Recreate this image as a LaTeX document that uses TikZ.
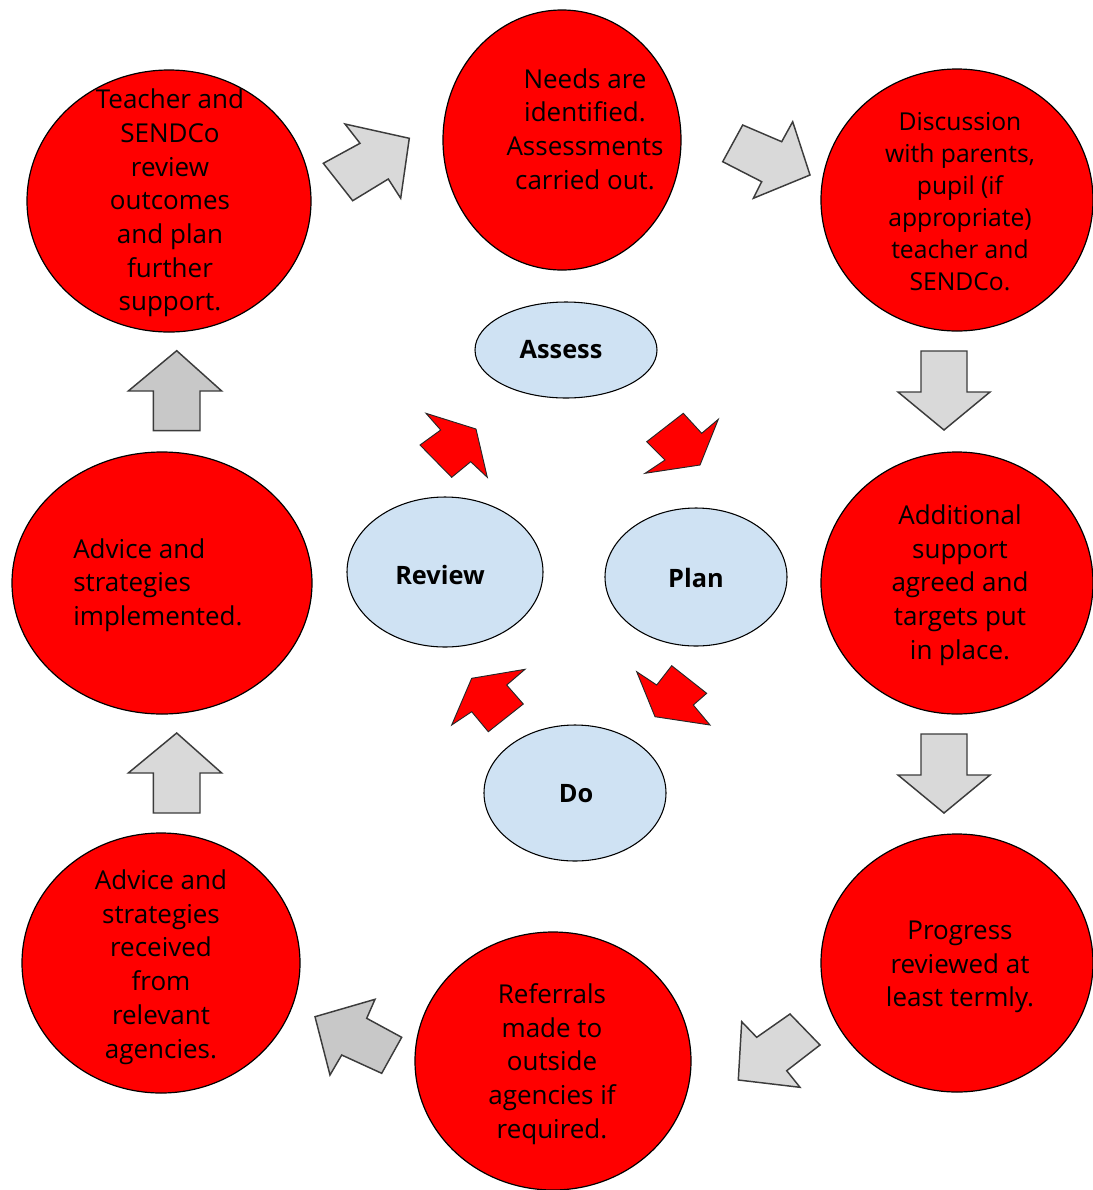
\documentclass[tikz,border=0pt]{standalone}
\usepackage{fontspec}
\setmainfont{Open Sans}
\usetikzlibrary{shapes.geometric}
\definecolor{redf}{HTML}{FF0000}
\definecolor{bluef}{HTML}{CFE2F3}
\definecolor{grayf}{HTML}{D9D9D9}
\definecolor{grayg}{HTML}{C8C8C8}
\definecolor{edgec}{HTML}{262626}
\tikzset{
  redc/.style={ellipse, draw=black, line width=0.9pt, fill=redf, inner sep=0pt},
  bluec/.style={ellipse, draw=black, line width=0.8pt, fill=bluef, inner sep=0pt},
  txt/.style={align=center, inner sep=0pt, text=black, font=\fontsize{19.5}{25.3}\selectfont},
  txts/.style={align=center, inner sep=0pt, text=black, font=\fontsize{18.5}{24}\selectfont},
  lbl/.style={inner sep=0pt, text=black, font=\bfseries\fontsize{19}{22}\selectfont},
  redarrow/.style={draw=edgec, line width=0.7pt, fill=redf, line join=miter},
  grayarrow/.style={draw=edgec!90, line width=1.1pt, fill=grayf, line join=miter},
  grayarrowd/.style={draw=edgec!90, line width=1.1pt, fill=grayg, line join=miter},
}
\begin{document}
\begin{tikzpicture}[x=0.75pt, y=-0.75pt]
\useasboundingbox (0,0) rectangle (1093,1190);
% red circles
\node[redc, minimum width=213pt, minimum height=196.5pt] (c1) at (169,201) {};
\node[redc, minimum width=178.5pt, minimum height=195pt] (c2) at (562,140) {};
\node[redc, minimum width=204pt, minimum height=196.5pt] (c3) at (957,200) {};
\node[redc, minimum width=204pt, minimum height=196.5pt] (c4) at (957,583) {};
\node[redc, minimum width=204pt, minimum height=193.5pt] (c5) at (957,963) {};
\node[redc, minimum width=207pt, minimum height=193.5pt] (c6) at (553,1061) {};
\node[redc, minimum width=208.5pt, minimum height=195pt] (c7) at (161,963) {};
\node[redc, minimum width=225pt, minimum height=196.5pt] (c8) at (162,583) {};
% texts
\node[txt] (t1) at (170,203) {Teacher and\\SENDCo\\review\\outcomes\\and plan\\further\\support.};
\node[txt] (t2) at (585,129) {Needs are\\identified.\\Assessments\\carried out.};
\node[txts] (t3) at (960,202) {Discussion\\with parents,\\pupil (if\\appropriate)\\teacher and\\SENDCo.};
\node[txt] (t4) at (960,585) {Additional\\support\\agreed and\\targets put\\in place.};
\node[txt] (t5) at (960,967) {Progress\\reviewed at\\least termly.};
\node[txt] (t6) at (552,1064) {Referrals\\made to\\outside\\agencies if\\required.};
\node[txt] (t7) at (161,967) {Advice and\\strategies\\received\\from\\relevant\\agencies.};
\node[txt, align=left, anchor=west] (t8) at (73,585) {Advice and\\strategies\\implemented.};
% blue ellipses
\node[bluec, minimum width=136.5pt, minimum height=72pt] (assess) at (566,350) {};
\node[bluec, minimum width=147pt, minimum height=112.5pt] (review) at (445,572) {};
\node[bluec, minimum width=136.5pt, minimum height=103.5pt] (plan) at (696,577) {};
\node[bluec, minimum width=136.5pt, minimum height=102pt] (do) at (575,793) {};
\node[lbl] (la) at (561,350) {Assess};
\node[lbl] (lr) at (440,575) {Review};
\node[lbl] (lp) at (696,578) {Plan};
\node[lbl] (ld) at (576,794) {Do};
% red arrows
\draw[redarrow] (476,429) -- (487.3,477.3) -- (470.7,461.7) -- (451.7,477.3) -- (420,445) -- (440.7,430) -- (426,413.3) -- cycle;
\draw[redarrow] (700,465) -- (718.3,419.3) -- (701.7,433.3) -- (683.3,413.3) -- (646.7,441.7) -- (665,460) -- (645,473.3) -- cycle;
\draw[redarrow] (655,716.7) -- (636.7,671.7) -- (656.7,685) -- (671.7,665.7) -- (706.7,693.3) -- (693.3,705) -- (710,725) -- cycle;
\draw[redarrow] (471.7,678.3) -- (525,669.3) -- (506.7,685) -- (523.3,704) -- (488.3,731.7) -- (471.7,711.7) -- (451.7,725) -- cycle;
% gray arrows
\draw[grayarrow] (409.3,138.3) -- (400.7,198.3) -- (388.3,179) -- (352.7,200.7) -- (323.3,163.3) -- (360,143.3) -- (345,124) -- cycle;
\draw[grayarrow] (810,175) -- (753.3,198.3) -- (761.7,181.7) -- (722.7,161.7) -- (742.7,125) -- (781.7,141.7) -- (792.7,121.7) -- cycle;
\draw[grayarrow] (944,430) -- (990,392) -- (967,392) -- (967,351) -- (921,351) -- (921,392) -- (898,392) -- cycle;
\draw[grayarrow] (944,813) -- (990,775) -- (967,775) -- (967,734) -- (921,734) -- (921,775) -- (898,775) -- cycle;
\draw[grayarrow] (738.3,1080) -- (800,1087.3) -- (786.7,1070.7) -- (820,1045) -- (790,1014) -- (756.7,1037.3) -- (741.7,1021.7) -- cycle;
\draw[grayarrowd] (315,1016.7) -- (375,999.3) -- (366.7,1018.3) -- (401.7,1037.3) -- (381.7,1073.3) -- (341.7,1055) -- (330,1075) -- cycle;
\draw[grayarrowd] (176.7,350.7) -- (221.7,391) -- (200,391) -- (200,430.7) -- (153.3,430.7) -- (153.3,391) -- (128.3,391) -- cycle;
\draw[grayarrow] (176.7,733) -- (221.7,773) -- (200,773) -- (200,813) -- (153.3,813) -- (153.3,773) -- (128.3,773) -- cycle;
\end{tikzpicture}
\end{document}
